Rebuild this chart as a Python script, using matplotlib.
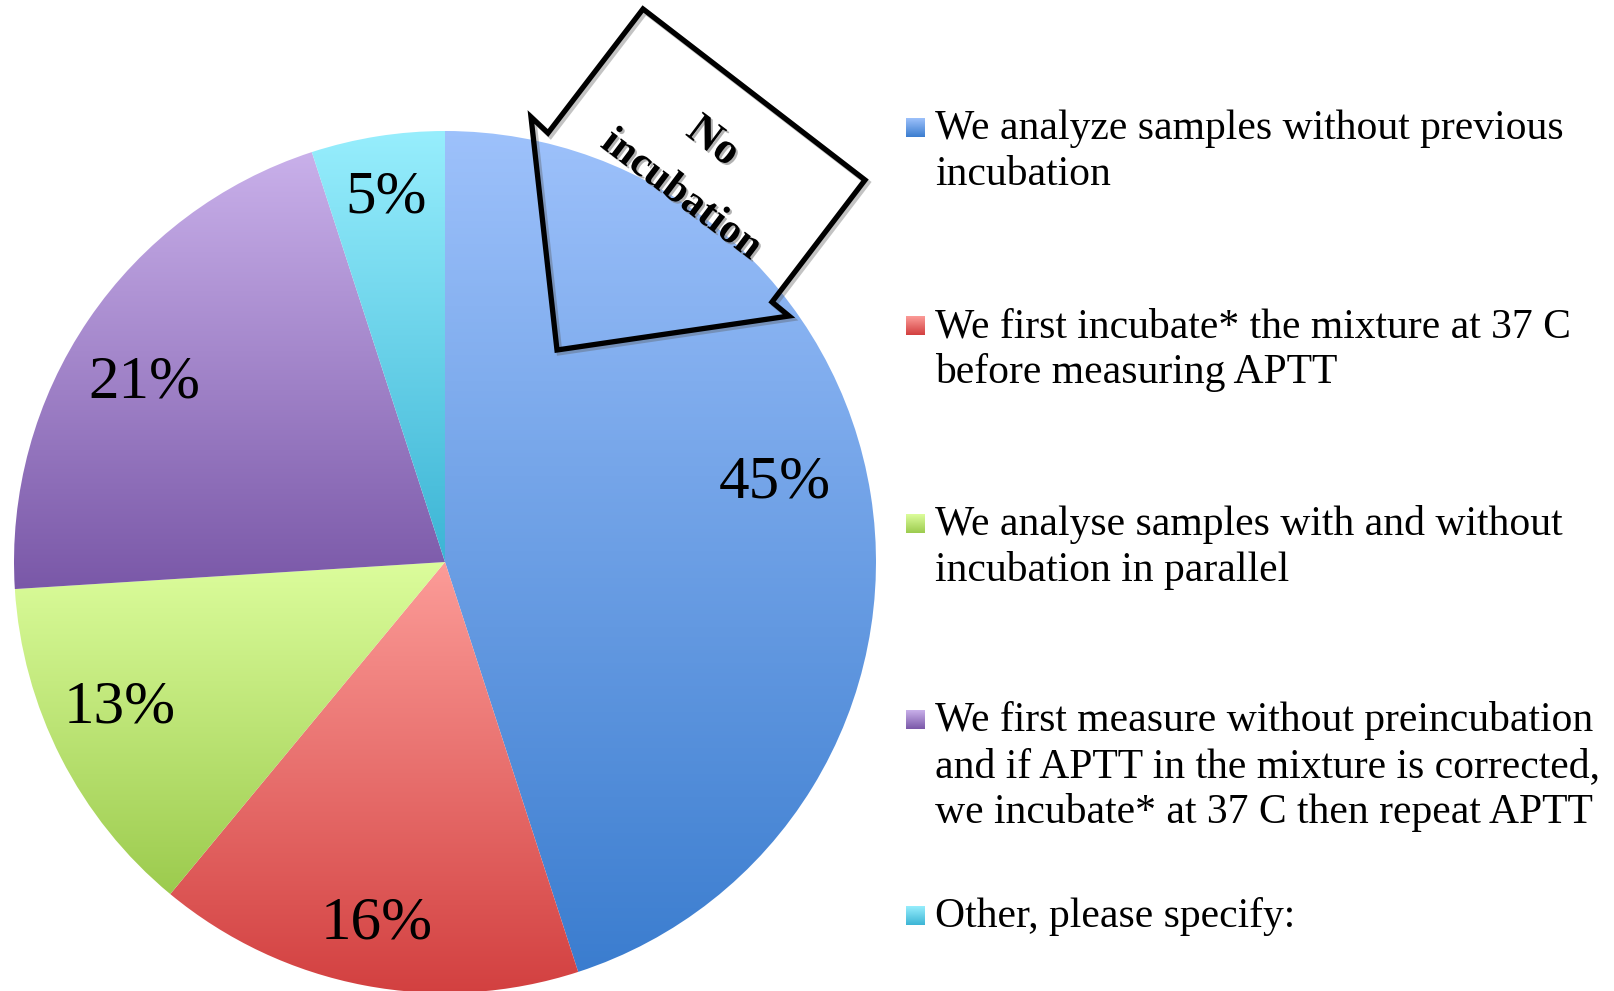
import numpy as np
import matplotlib
matplotlib.use("Agg")
import matplotlib.pyplot as plt
from matplotlib.colors import LinearSegmentedColormap
from matplotlib.patches import Polygon
import matplotlib.patheffects as pe

# ---------------- data ----------------
categories = [
    "We analyze samples without previous\nincubation",
    "We first incubate* the mixture at 37 C\nbefore measuring APTT",
    "We analyse samples with and without\nincubation in parallel",
    "We first measure without preincubation\nand if APTT in the mixture is corrected,\nwe incubate* at 37 C then repeat APTT",
    "Other, please specify:",
]
values = [45, 16, 13, 21, 5]
pct_labels = ["45%", "16%", "13%", "21%", "5%"]
top_colors = ["#9dc1fb", "#fc9c98", "#dcfd9c", "#c9b0ea", "#97eefd"]
bottom_colors = ["#3b7dcf", "#d23f3f", "#9ccb4e", "#7a58a8", "#3cb5d5"]
callout_lines = ["No", "incubation"]

# ---------------- layout ----------------
W, H = 1614, 991
fig = plt.figure(figsize=(W / 100, H / 100), dpi=100)
cx, cy, R = 445, 562, 431
ax = fig.add_axes([(cx - R) / W, (H - cy - R) / H, 2 * R / W, 2 * R / H])

wedges, _ = ax.pie(values, startangle=90, counterclock=False, radius=1,
                   wedgeprops=dict(linewidth=0))
grad = np.linspace(0, 1, 256)[:, None]
for w, c0, c1 in zip(wedges, top_colors, bottom_colors):
    w.set_facecolor("none")
    v = w.get_path().vertices
    cmap = LinearSegmentedColormap.from_list("g", [c0, c1])
    im = ax.imshow(grad, cmap=cmap, origin="upper", aspect="auto",
                   extent=[v[:, 0].min(), v[:, 0].max(), v[:, 1].min(), v[:, 1].max()],
                   interpolation="bilinear")
    im.set_clip_path(w)
ax.set_xlim(-1, 1)
ax.set_ylim(-1, 1)
ax.set_aspect("equal")
ax.axis("off")

# percentage labels placed along each wedge's mid angle
label_r = [0.79, 0.84, 0.82, 0.82, 0.87]
label_dang = [5.6, 0.0, -3.8, 2.5, 0.0]
for w, txt, r, da in zip(wedges, pct_labels, label_r, label_dang):
    mid = np.deg2rad((w.theta1 + w.theta2) / 2 + da)
    ax.text(r * np.cos(mid), r * np.sin(mid) - 0.049, txt, ha="center",
            va="baseline", fontsize=44, family="Liberation Serif", color="black")

# ---------------- overlay (pixel coordinates) ----------------
ov = fig.add_axes([0, 0, 1, 1], zorder=5)
ov.set_xlim(0, W)
ov.set_ylim(H, 0)
ov.axis("off")
ov.patch.set_alpha(0)

callout_xy = np.array([(643, 9), (865, 180), (772, 302), (789, 316), (557, 350),
                       (531, 117), (548, 133)], dtype=float)
ov.add_patch(Polygon(callout_xy + np.array([2.5, 2.5]), closed=True, fill=False,
                     edgecolor="#555555", alpha=0.35, linewidth=4.2, joinstyle="miter"))
ov.add_patch(Polygon(callout_xy, closed=True, fill=False, edgecolor="black",
                     linewidth=3.8, joinstyle="miter"))
shadow = [pe.SimplePatchShadow(offset=(1.5, -1.5), shadow_rgbFace="gray", alpha=0.6), pe.Normal()]
ov.text(713, 142, callout_lines[0], rotation=-37, rotation_mode="anchor", ha="center",
        va="center", fontsize=32, fontweight="bold", family="Liberation Serif", path_effects=shadow)
ov.text(681, 195, callout_lines[1], rotation=-37, rotation_mode="anchor", ha="center",
        va="center", fontsize=30, fontweight="bold", family="Liberation Serif", path_effects=shadow)

# legend
first_baselines = [139, 337, 535, 731, 927]
line_step = 46
text_x = 935
mk_x, mk_s = 906, 19
for lab, b, c0, c1 in zip(categories, first_baselines, top_colors, bottom_colors):
    cmap = LinearSegmentedColormap.from_list("g", [c0, c1])
    ov.imshow(grad, cmap=cmap, origin="upper", aspect="auto",
              extent=[mk_x, mk_x + mk_s, b - 2, b - 2 - mk_s], interpolation="bilinear")
    for i, line in enumerate(lab.split("\n")):
        ov.text(text_x, b + i * line_step, line, ha="left", va="baseline",
                fontsize=30, family="Liberation Serif", color="black")
ov.set_xlim(0, W)
ov.set_ylim(H, 0)

fig.savefig("out.png", dpi=100)
